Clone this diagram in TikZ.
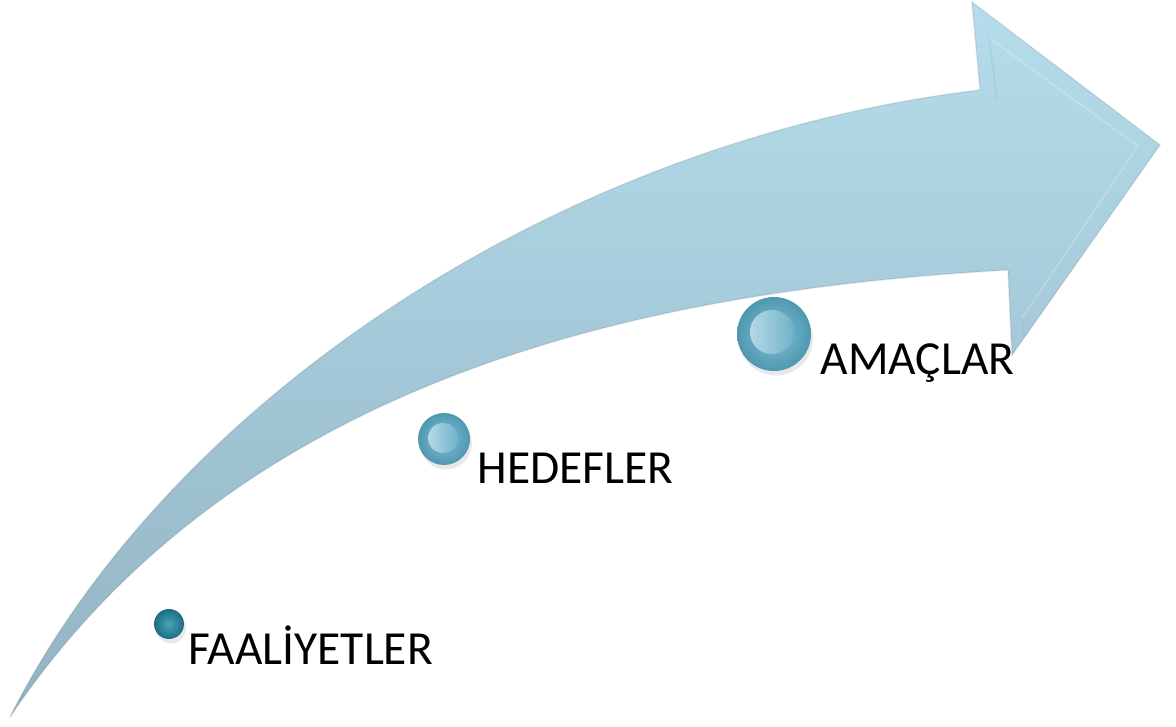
\documentclass[tikz,border=0pt]{standalone}
\usepackage{fontspec}
\setmainfont{Carlito}
\usetikzlibrary{positioning, calc, shadows}

\definecolor{arrowhi}{HTML}{B6DDEB}
\definecolor{arrowmid}{HTML}{A8CEDE}
\definecolor{arrowlo}{HTML}{92B3C3}
\definecolor{dotdark}{HTML}{2B91A8}
\definecolor{dotdarkrim}{HTML}{1A6F84}
\definecolor{dotlight}{HTML}{76BBD2}
\definecolor{dotrim}{HTML}{4F97B1}

\begin{document}
\begin{tikzpicture}[x=0.1mm, y=-0.1mm]
\tikzset{
    dotshadow/.style={drop shadow={opacity=0.18, shadow xshift=0.2mm, shadow yshift=-0.45mm}},
    outerdot/.style={circle, inner sep=0pt, minimum size=#1, inner color=dotlight!90!white, outer color=dotrim, dotshadow},
    innerdot/.style={circle, inner sep=0pt, minimum size=#1, left color=dotlight!55!white, right color=dotlight!95!black},
    smalldot/.style={circle, inner sep=0pt, minimum size=#1, inner color=dotdark!85!white, outer color=dotdarkrim, dotshadow},
    lbl/.style={anchor=base west, inner sep=0pt, font=\fontsize{13.5pt}{16pt}\selectfont}
}
    \useasboundingbox (0,0) rectangle (1176,727);

    % arrow outline
    \coordinate (tail) at (10,717);
    \coordinate (neck_up) at (980,90);
    \coordinate (head_up) at (972,2);
    \coordinate (tip) at (1160,145);
    \coordinate (head_lo) at (1012,355);
    \coordinate (neck_lo) at (1008,270);

    \shade[top color=arrowhi, middle color=arrowmid, bottom color=arrowlo]
        (tail) .. controls (170,400) and (560,140) .. (neck_up) -- (head_up) -- (tip)
        -- (head_lo) -- (neck_lo) .. controls (650,290) and (240,375) .. cycle;
    \draw[arrowlo!70!black, opacity=0.2, line width=0.4pt]
        (tail) .. controls (170,400) and (560,140) .. (neck_up) -- (head_up) -- (tip)
        -- (head_lo) -- (neck_lo) .. controls (650,290) and (240,375) .. cycle;

    % bevel of the head
    \draw[white, opacity=0.2, line width=0.5pt] (989,38) -- (1138,146) -- (1022,318);
    \draw[arrowlo, opacity=0.25, line width=0.5pt] (989,38) -- (997,100);
    \draw[arrowlo, opacity=0.25, line width=0.5pt] (1022,318) -- (1024,336);

    % steps
    \coordinate (faal) at (169,624);
    \coordinate (hedef) at (444,439);
    \coordinate (amac) at (774,334);

    \path (faal) node[smalldot=3mm] (faal_dot) {};
    \path (hedef) node[outerdot=5.2mm] (hedef_dot) {};
    \path ($(hedef)+(-1,-1)$) node[innerdot=3mm] (hedef_in) {};
    \path (amac) node[outerdot=7.4mm] (amac_dot) {};
    \path ($(amac)+(-2,-2)$) node[innerdot=4.4mm] (amac_in) {};

    \node[lbl] (faal_t) at ($(faal)+(19,41)$) {FAALİYETLER};
    \node[lbl] (hedef_t) at ($(hedef)+(33,44)$) {HEDEFLER};
    \node[lbl] (amac_t) at ($(amac)+(46,41)$) {AMAÇLAR};

\end{tikzpicture}
\end{document}
